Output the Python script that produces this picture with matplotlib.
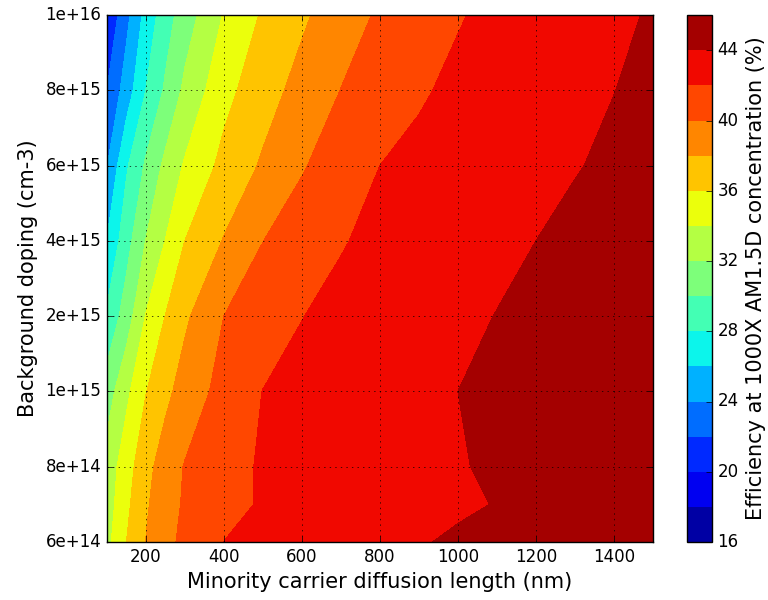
import numpy as np
import matplotlib
matplotlib.use("Agg")
import matplotlib.pyplot as plt

# diffusion length grid (nm)
diff_len = [100, 150, 200, 250, 300, 400, 500, 600, 700, 800, 900, 1000,
            1100, 1200, 1300, 1400, 1500]

# background doping rows (cm-3)
doping = [6e14, 7e14, 8e14, 1e15, 2e15, 4e15, 6e15, 8e15, 1e16]

# efficiency (%), one row per doping value
eff = [
    [33.4, 35.98, 38.03, 39.44, 40.47, 42.01, 42.38, 42.75, 43.12, 43.50, 43.87, 44.24, 44.60, 44.97, 45.30, 45.60, 45.90],
    [33.0, 35.53, 37.74, 39.17, 40.23, 41.45, 42.17, 42.49, 42.80, 43.12, 43.43, 43.75, 44.06, 44.38, 44.69, 45.00, 45.30],
    [32.8, 35.09, 37.38, 38.92, 40.11, 41.40, 42.18, 42.53, 42.87, 43.21, 43.55, 43.89, 44.23, 44.57, 44.90, 45.20, 45.50],
    [31.0, 33.53, 35.92, 37.51, 38.80, 40.70, 42.03, 42.43, 42.82, 43.21, 43.61, 44.00, 44.35, 44.70, 45.00, 45.30, 45.60],
    [28.3, 30.97, 34.08, 36.03, 37.67, 40.00, 40.99, 41.97, 42.40, 42.81, 43.22, 43.63, 44.04, 44.45, 44.86, 45.27, 45.68],
    [26.05, 29.21, 32.04, 34.04, 36.00, 38.11, 39.98, 40.95, 41.90, 42.37, 42.78, 43.18, 43.59, 44.00, 44.41, 44.82, 45.22],
    [23.9, 27.73, 30.28, 32.47, 34.21, 36.56, 38.25, 39.84, 40.95, 42.00, 42.38, 42.76, 43.15, 43.53, 43.91, 44.29, 44.67],
    [22.0, 24.94, 28.00, 30.28, 32.43, 35.38, 37.19, 38.66, 40.03, 40.92, 41.82, 42.33, 42.74, 43.15, 43.57, 43.98, 44.39],
    [20.2, 23.40, 26.65, 29.10, 31.00, 34.13, 36.23, 37.68, 39.07, 40.26, 41.08, 41.89, 42.38, 42.82, 43.26, 43.70, 44.14],
]

tick_doping = [6e14, 8e14, 1e15, 2e15, 4e15, 6e15, 8e15, 1e16]
tick_labels = ['6e+14', '8e+14', '1e+15', '2e+15', '4e+15', '6e+15', '8e+15', '1e+16']

levels = np.arange(16, 47, 2)
cbar_ticks = [16, 20, 24, 28, 32, 36, 40, 44]

plt.style.use('classic')
plt.rcParams['font.family'] = ['DejaVu Sans']

fig = plt.figure(figsize=(7.68, 6), dpi=100, facecolor='white')
ax = fig.add_axes([0.139, 0.0967, 0.711, 0.878])
cax = fig.add_axes([0.8945, 0.0967, 0.0326, 0.878])

# doping rows sit on an evenly spaced axis, one step per tick value
row_pos = np.interp(doping, tick_doping, np.arange(len(tick_doping)))
X, Y = np.meshgrid(diff_len, row_pos)
cs = ax.contourf(X, Y, np.array(eff), levels=levels, cmap='jet')

ax.set_xlim(100, 1500)
ax.set_ylim(0, len(tick_doping) - 1)
ax.set_xticks([200, 400, 600, 800, 1000, 1200, 1400])
ax.set_yticks(np.arange(len(tick_doping)))
ax.set_yticklabels(tick_labels)
ax.grid(True)
ax.set_xlabel("Minority carrier diffusion length (nm)", fontsize=15)
ax.set_ylabel("Background doping (cm-3)", fontsize=15)

cb = fig.colorbar(cs, cax=cax, ticks=cbar_ticks)
cb.set_label("Efficiency at 1000X AM1.5D concentration (%)", fontsize=15)

fig.savefig("out.png", dpi=100, facecolor='white')
